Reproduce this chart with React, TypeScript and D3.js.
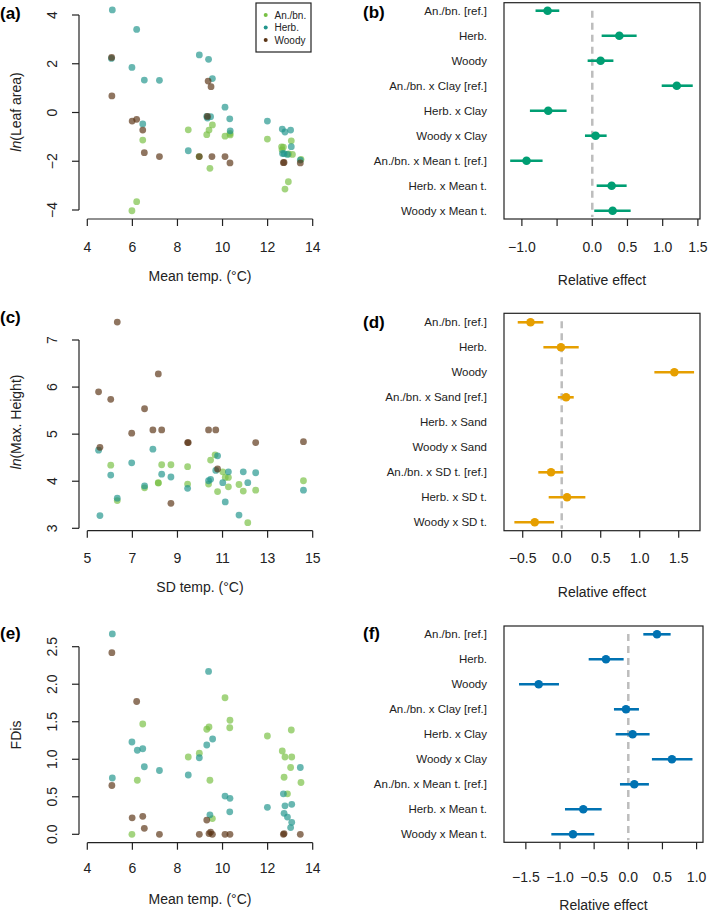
import React from "react";
import * as d3 from "d3";

const FONT = '"Liberation Sans", Arial, Helvetica, sans-serif';

// group colours (scatter panels)
const groupNames = ["An./bn.", "Herb.", "Woody"];
const groupColors = ["#77c043", "#21958c", "#5a3415"];

// (a) ln(Leaf area) vs mean temp
const leafAnnual = [
  [8.48, -0.71], [8.96, -1.81], [9.3, -0.91], [9.4, -0.72], [9.55, -0.51], [9.44, -2.29],
  [10.11, -0.97], [10.33, -0.86], [10.34, -0.92], [6.46, -1.13], [5.98, -4.03], [6.19, -3.66],
  [11.99, -1.09], [12.7, -1.42], [12.64, -1.53], [13.05, -1.16], [12.93, -1.7], [13.1, -1.72],
  [12.77, -3.14], [12.92, -2.84], [13.48, -1.92], [12.62, -1.41],
];
const leafHerb = [
  [5.11, 4.21], [6.19, 3.41], [5.07, 2.22], [5.98, 1.85], [6.53, 1.33], [7.2, 1.32],
  [8.97, 2.36], [9.38, 2.18], [9.55, 1.39], [10.11, 0.22], [9.3, -0.16], [9.47, -0.17],
  [9.33, -0.23], [10.32, -0.26], [10.34, -0.75], [6.46, -0.47], [8.48, -1.57], [11.99, -0.35],
  [12.65, -0.68], [12.77, -0.8], [13.02, -0.72], [13.05, -1.4], [12.73, -1.69], [12.88, -1.72],
  [12.66, -1.68], [13.45, -1.95],
];
const leafWoody = [
  [5.08, 2.26], [5.09, 0.68], [5.99, -0.35], [6.19, -0.28], [6.46, -0.72], [6.53, -1.65],
  [7.2, -1.81], [8.97, -1.81], [9.36, 1.29], [9.49, 1.06], [9.33, -0.16], [9.53, -1.81],
  [10.11, -1.81], [10.33, -2.07], [12.7, -2.06], [12.73, -2.05], [13.45, -2.07],
];

// (c) ln(Max. Height) vs SD temp
const heightAnnual = [
  [6.04, 4.34], [6.33, 3.59], [7.54, 3.86], [8.15, 3.97], [8.3, 4.35], [8.71, 4.35],
  [9.45, 4.31], [9.45, 3.94], [10.38, 3.94], [10.47, 4.45], [10.67, 4.56], [10.78, 3.78],
  [11.01, 4.2], [11.12, 4.08], [11.26, 4.08], [11.26, 3.88], [11.73, 3.93], [11.92, 3.79],
  [12.12, 3.12], [12.47, 3.81], [14.59, 4.01], [8.15, 3.96],
];
const heightHerb = [
  [5.5, 4.66], [7.91, 4.68], [6.97, 4.39], [6.04, 4.13], [8.3, 4.15], [8.71, 4.09],
  [6.33, 3.64], [5.56, 3.27], [7.54, 3.9], [9.45, 3.85], [10.47, 4.04], [10.38, 4.01],
  [10.78, 4.54], [10.7, 4.23], [11.26, 4.2], [11.01, 3.97], [11.12, 3.56], [11.92, 4.2],
  [12.12, 3.97], [12.47, 4.18], [11.73, 3.28], [14.59, 3.81],
];
const heightWoody = [
  [6.33, 7.38], [8.15, 6.28], [5.5, 5.9], [6.04, 5.74], [7.54, 5.54], [6.97, 5.02],
  [7.91, 5.09], [8.3, 5.09], [10.38, 5.09], [10.7, 5.09], [9.45, 4.82], [9.48, 4.82],
  [12.47, 4.82], [14.59, 4.84], [5.56, 4.72], [10.78, 4.26], [8.71, 3.53],
];

// (e) FDis vs mean temp
const fdisAnnual = [
  [5.98, 0.0], [6.22, 0.72], [6.46, 1.47], [8.48, 1.03], [8.97, 1.08], [9.3, 1.4],
  [9.4, 1.43], [9.44, 0.72], [9.55, 0.21], [10.11, 1.82], [10.33, 1.52], [10.32, 1.42],
  [11.99, 1.31], [12.65, 1.11], [12.77, 1.03], [13.07, 1.03], [12.73, 0.76], [12.88, 0.54],
  [13.02, 0.89], [13.05, 1.39], [13.48, 0.69],
];
const fdisHerb = [
  [5.11, 2.67], [5.11, 0.75], [5.98, 1.23], [6.22, 1.12], [6.46, 1.14], [6.53, 0.9],
  [7.2, 0.85], [8.48, 0.79], [8.97, 1.02], [9.3, 1.19], [9.38, 2.17], [9.56, 1.27],
  [9.44, 0.26], [10.11, 0.51], [10.33, 0.48], [10.32, 0.3], [11.99, 0.36], [12.7, 0.54],
  [12.77, 0.38], [13.07, 0.4], [12.73, 0.28], [12.88, 0.23], [13.07, 0.16], [13.02, 0.09],
  [13.45, 0.89],
];
const fdisWoody = [
  [5.09, 2.42], [5.09, 0.65], [5.99, 0.22], [6.19, 1.77], [6.46, 0.24], [6.53, 0.08],
  [7.2, 0.0], [8.97, 0.0], [9.3, 0.19], [9.4, 0.01], [9.47, 0.03], [9.55, 0.0],
  [10.11, 0.0], [10.33, 0.0], [12.7, 0.0], [12.73, 0.01], [13.45, 0.0],
];

// effect panels
const termsB = [
  "An./bn. [ref.]", "Herb.", "Woody", "An./bn. x Clay [ref.]", "Herb. x Clay",
  "Woody x Clay", "An./bn. x Mean t. [ref.]", "Herb. x Mean t.", "Woody x Mean t.",
];
const estB = [-0.635, 0.384, 0.118, 1.2, -0.626, 0.047, -0.934, 0.275, 0.289];
const loB = [-0.806, 0.133, -0.066, 0.986, -0.886, -0.104, -1.166, 0.062, 0.028];
const hiB = [-0.469, 0.63, 0.3, 1.427, -0.365, 0.204, -0.706, 0.488, 0.545];

const termsD = [
  "An./bn. [ref.]", "Herb.", "Woody", "An./bn. x Sand [ref.]", "Herb. x Sand",
  "Woody x Sand", "An./bn. x SD t. [ref.]", "Herb. x SD t.", "Woody x SD t.",
];
const estD = [-0.4, -0.01, 1.444, 0.056, null, null, -0.137, 0.068, -0.346];
const loD = [-0.564, -0.235, 1.188, -0.05, null, null, -0.3, -0.167, -0.607];
const hiD = [-0.235, 0.218, 1.697, 0.154, null, null, 0.021, 0.303, -0.098];

const termsF = [
  "An./bn. [ref.]", "Herb.", "Woody", "An./bn. x Clay [ref.]", "Herb. x Clay",
  "Woody x Clay", "An./bn. x Mean t. [ref.]", "Herb. x Mean t.", "Woody x Mean t.",
];
const estF = [0.42, -0.327, -1.312, -0.034, 0.063, 0.639, 0.088, -0.659, -0.81];
const loF = [0.22, -0.58, -1.6, -0.21, -0.185, 0.346, -0.122, -0.927, -1.127];
const hiF = [0.62, -0.068, -1.015, 0.156, 0.312, 0.94, 0.302, -0.39, -0.498];

const ticksB = [-1, -0.5, 0, 0.5, 1, 1.5];
const labelsB = [-1, 0, 0.5, 1, 1.5];
const ticksD = [-0.5, 0, 0.5, 1, 1.5];
const ticksF = [-1.5, -1, -0.5, 0, 0.5, 1];

const f1 = d3.format(".1f");
const f0 = d3.format("d");

type ScatterProps = {
  groups: number[][][];
  xDomain: [number, number];
  yDomain: [number, number];
  yRange: [number, number];
  axisY: number;
  xTicks: number[];
  yTicks: number[];
  yFmt: (v: number) => string;
  xTitle: string;
  yTitle: React.ReactNode;
  yTitleY: number;
  tickBase: number;
  titleBase: number;
  label: string;
  labelBase: number;
};

const ScatterPanel = (p: ScatterProps) => {
  const x = d3.scaleLinear().domain(p.xDomain).range([87.3, 312.7]);
  const y = d3.scaleLinear().domain(p.yDomain).range(p.yRange);
  const axisX = 79;
  const yt = p.yTicks.map((t) => y(t));
  return (
    <g>
      <text x={0} y={p.labelBase} fontSize={17} fontWeight="bold">{p.label}</text>
      {/* y axis */}
      <line x1={axisX} x2={axisX} y1={d3.min(yt)} y2={d3.max(yt)} stroke="#222" strokeWidth={1.2} />
      {p.yTicks.map((t) => (
        <g key={"y" + t}>
          <line x1={axisX - 7} x2={axisX} y1={y(t)} y2={y(t)} stroke="#222" strokeWidth={1.2} />
          <text transform={`translate(57,${y(t)}) rotate(-90)`} textAnchor="middle" fontSize={14} fill="#222">
            {p.yFmt(t)}
          </text>
        </g>
      ))}
      <text transform={`translate(20.5,${p.yTitleY}) rotate(-90)`} textAnchor="middle" fontSize={14} fill="#222">
        {p.yTitle}
      </text>
      {/* x axis */}
      <line x1={x(p.xTicks[0])} x2={x(p.xTicks[p.xTicks.length - 1])} y1={p.axisY} y2={p.axisY} stroke="#222" strokeWidth={1.2} />
      {p.xTicks.map((t) => (
        <g key={"x" + t}>
          <line x1={x(t)} x2={x(t)} y1={p.axisY} y2={p.axisY + 7} stroke="#222" strokeWidth={1.2} />
          <text x={x(t)} y={p.tickBase} textAnchor="middle" fontSize={14} fill="#222">{t}</text>
        </g>
      ))}
      <text x={200} y={p.titleBase} textAnchor="middle" fontSize={14} fill="#222">{p.xTitle}</text>
      {/* points */}
      {p.groups.map((pts, gi) =>
        pts.map((d, i) => (
          <circle key={gi + "-" + i} cx={x(d[0])} cy={y(d[1])} r={3.4} fill={groupColors[gi]} fillOpacity={0.68} />
        ))
      )}
    </g>
  );
};

type EffectProps = {
  terms: string[];
  est: (number | null)[];
  lo: (number | null)[];
  hi: (number | null)[];
  color: string;
  xDomain: [number, number];
  right: number;
  top: number;
  bottom: number;
  row0: number;
  ticks: number[];
  labels: number[];
  tickBase: number;
  titleBase: number;
  label: string;
  labelBase: number;
};

const EffectPanel = (p: EffectProps) => {
  const left = 504;
  const x = d3.scaleLinear().domain(p.xDomain).range([left, p.right]);
  const rowY = (i: number) => p.row0 + i * 25;
  return (
    <g>
      <text x={363} y={p.labelBase} fontSize={17} fontWeight="bold">{p.label}</text>
      <line x1={x(0)} x2={x(0)} y1={p.top + 8} y2={p.bottom - 2} stroke="#bdbdbd" strokeWidth={2.5} strokeDasharray="7,5" />
      {p.terms.map((t, i) => (
        <g key={t}>
          <text x={487} y={rowY(i)} dy="0.35em" textAnchor="end" fontSize={11.5} fill="#222">{t}</text>
          {p.est[i] !== null && (
            <g>
              <line x1={x(p.lo[i] as number)} x2={x(p.hi[i] as number)} y1={rowY(i)} y2={rowY(i)} stroke={p.color} strokeWidth={2.6} />
              <circle cx={x(p.est[i] as number)} cy={rowY(i)} r={4.3} fill={p.color} />
            </g>
          )}
        </g>
      ))}
      <rect x={left} y={p.top} width={p.right - left} height={p.bottom - p.top} fill="none" stroke="#222" strokeWidth={1.2} />
      {p.ticks.map((t) => (
        <line key={"t" + t} x1={x(t)} x2={x(t)} y1={p.bottom} y2={p.bottom + 7} stroke="#222" strokeWidth={1.2} />
      ))}
      {p.labels.map((t) => (
        <text key={"l" + t} x={x(t)} y={p.tickBase} textAnchor="middle" fontSize={14} fill="#222">{f1(t)}</text>
      ))}
      <text x={(left + p.right) / 2} y={p.titleBase} textAnchor="middle" fontSize={14} fill="#222">Relative effect</text>
    </g>
  );
};

const Legend = () => (
  <g>
    <rect x={256} y={3} width={55} height={49} fill="white" stroke="#222" strokeWidth={1.2} />
    {groupNames.map((n, i) => (
      <g key={n}>
        <circle cx={265.7} cy={15 + i * 12.5} r={2} fill={groupColors[i]} />
        <text x={274.5} y={15 + i * 12.5} dy="0.35em" fontSize={10} fill="#222">{n}</text>
      </g>
    ))}
  </g>
);

const ln = (rest: string) => (
  <>
    <tspan fontStyle="italic">ln</tspan>
    <tspan>{"(" + rest + ")"}</tspan>
  </>
);

export default function App() {
  return (
    <svg width={709} height={911} style={{ position: "absolute", left: 0, top: 0, background: "white" }} fontFamily={FONT}>
      <ScatterPanel
        groups={[leafAnnual, leafHerb, leafWoody]}
        xDomain={[4, 14]} yDomain={[-4, 4]} yRange={[210, 15]} axisY={219}
        xTicks={[4, 6, 8, 10, 12, 14]} yTicks={[-4, -2, 0, 2, 4]} yFmt={f0}
        xTitle="Mean temp. (°C)" yTitle={ln("Leaf area")} yTitleY={112}
        tickBase={251.5} titleBase={281} label="(a)" labelBase={19}
      />
      <Legend />
      <ScatterPanel
        groups={[heightAnnual, heightHerb, heightWoody]}
        xDomain={[5, 15]} yDomain={[3, 7]} yRange={[528.3, 340]} axisY={530.7}
        xTicks={[5, 7, 9, 11, 13, 15]} yTicks={[3, 4, 5, 6, 7]} yFmt={f0}
        xTitle="SD temp. (°C)" yTitle={ln("Max. Height")} yTitleY={422}
        tickBase={563.3} titleBase={592} label="(c)" labelBase={322.5}
      />
      <ScatterPanel
        groups={[fdisAnnual, fdisHerb, fdisWoody]}
        xDomain={[4, 14]} yDomain={[0, 2.5]} yRange={[834.3, 646.7]} axisY={842.7}
        xTicks={[4, 6, 8, 10, 12, 14]} yTicks={[0, 0.5, 1, 1.5, 2, 2.5]} yFmt={f1}
        xTitle="Mean temp. (°C)" yTitle="FDis" yTitleY={735}
        tickBase={873} titleBase={904} label="(e)" labelBase={639}
      />
      <EffectPanel
        terms={termsB} est={estB} lo={loB} hi={hiB} color="#009E73"
        xDomain={[-1.254, 1.53]} right={700} top={2.7} bottom={219} row0={10.7}
        ticks={ticksB} labels={labelsB} tickBase={251.5} titleBase={285}
        label="(b)" labelBase={17.5}
      />
      <EffectPanel
        terms={termsD} est={estD} lo={loD} hi={hiD} color="#E69F00"
        xDomain={[-0.74, 1.773]} right={700} top={313.3} bottom={530.7} row0={322.3}
        ticks={ticksD} labels={ticksD} tickBase={563.3} titleBase={596.5}
        label="(d)" labelBase={327.5}
      />
      <EffectPanel
        terms={termsF} est={estF} lo={loF} hi={hiF} color="#0072B2"
        xDomain={[-1.82, 1.094]} right={703} top={626} bottom={842.3} row0={634.3}
        ticks={ticksF} labels={ticksF} tickBase={881.5} titleBase={909.5}
        label="(f)" labelBase={639}
      />
    </svg>
  );
}
